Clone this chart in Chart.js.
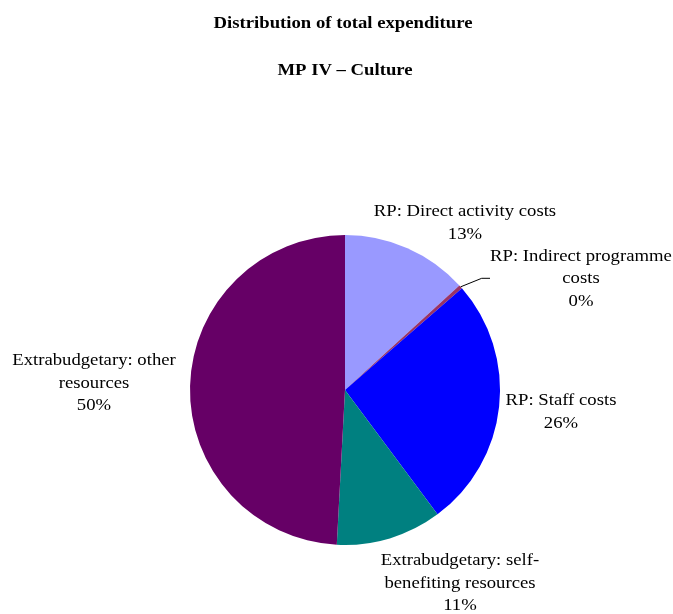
<!DOCTYPE html>
<html>
<head>
<meta charset="utf-8">
<title>Distribution of total expenditure – MP IV – Culture</title>
<script src="https://cdn.jsdelivr.net/npm/chart.js@4/dist/chart.umd.min.js"></script>
<style>
  html, body { margin: 0; padding: 0; background: #ffffff; }
  #wrap { width: 673px; height: 614px; }
</style>
</head>
<body>
<div id="wrap"><canvas id="pie" width="673" height="614"></canvas></div>
<script>
// Titles
const chartTitle = "Distribution of total expenditure";
const chartSubtitle = "MP IV \u2013 Culture";

// Slice names (each entry split into its printed lines)
const categories = [
  ["RP: Direct activity costs"],
  ["RP: Indirect programme", "costs"],
  ["RP: Staff costs"],
  ["Extrabudgetary: self-", "benefiting resources"],
  ["Extrabudgetary: other", "resources"]
];

// Share of total expenditure, in percent (printed rounded to whole numbers)
const shares = [13.3, 0.4, 26.4, 11.1, 49.5];

// Slice colours
const sliceColors = ["#9999FF", "#993366", "#0000FF", "#008080", "#660066"];

// Where each label's first baseline sits, measured from the pie centre in px
const labelOffsets = [
  { dx: 120, dy: -174 },
  { dx: 236, dy: -129.5 },
  { dx: 216, dy: 15 },
  { dx: 115, dy: 175 },
  { dx: -251, dy: -25 }
];
// Leader line for the thin slice: bend point and end, relative to the centre
const leaderSlice = 1;
const leaderBend = { dx: 136.7, dy: -111.7 };
const leaderEnd = { dx: 145, dy: -111.7 };

const serif = "'Liberation Serif', 'Times New Roman', Times, serif";
const lineStep = 22.5;
const textStretch = 1.1;

// Centered text, slightly widened horizontally
function wideText(ctx, text, x, y) {
  ctx.save();
  ctx.translate(x, y);
  ctx.scale(textStretch, 1);
  ctx.fillText(text, 0, 0);
  ctx.restore();
}

const textPlugin = {
  id: "pieText",
  afterDraw(chart) {
    const ctx = chart.ctx;
    const meta = chart.getDatasetMeta(0);
    const arc0 = meta.data[0];
    const cx = arc0.x, cy = arc0.y;

    ctx.save();
    // Titles
    ctx.fillStyle = "#000000";
    ctx.textAlign = "center";
    ctx.textBaseline = "alphabetic";
    ctx.font = "bold 17px " + serif;
    wideText(ctx, chartTitle, 343, 27.5);
    wideText(ctx, chartSubtitle, 345, 75);

    // Leader line for the small slice
    const a = meta.data[leaderSlice];
    const mid = (a.startAngle + a.endAngle) / 2;
    ctx.strokeStyle = "#000000";
    ctx.lineWidth = 1;
    ctx.beginPath();
    ctx.moveTo(cx + Math.cos(mid) * a.outerRadius, cy + Math.sin(mid) * a.outerRadius);
    ctx.lineTo(cx + leaderBend.dx, cy + leaderBend.dy);
    ctx.lineTo(cx + leaderEnd.dx, cy + leaderEnd.dy);
    ctx.stroke();

    // Slice labels with percentages
    ctx.font = "17px " + serif;
    categories.forEach((lines, i) => {
      const pct = Math.round(shares[i]) + "%";
      const all = lines.concat([pct]);
      const x = cx + labelOffsets[i].dx;
      let y = cy + labelOffsets[i].dy;
      all.forEach(t => { wideText(ctx, t, x, y); y += lineStep; });
    });
    ctx.restore();
  }
};

new Chart(document.getElementById("pie"), {
  type: "pie",
  data: {
    labels: categories,
    datasets: [{
      data: shares,
      backgroundColor: sliceColors,
      borderWidth: 0
    }]
  },
  options: {
    responsive: false,
    animation: false,
    rotation: 0,
    layout: { padding: { left: 190, right: 173, top: 235, bottom: 69 } },
    plugins: {
      legend: { display: false },
      tooltip: { enabled: false },
      title: { display: false }
    }
  },
  plugins: [textPlugin]
});
</script>
</body>
</html>
